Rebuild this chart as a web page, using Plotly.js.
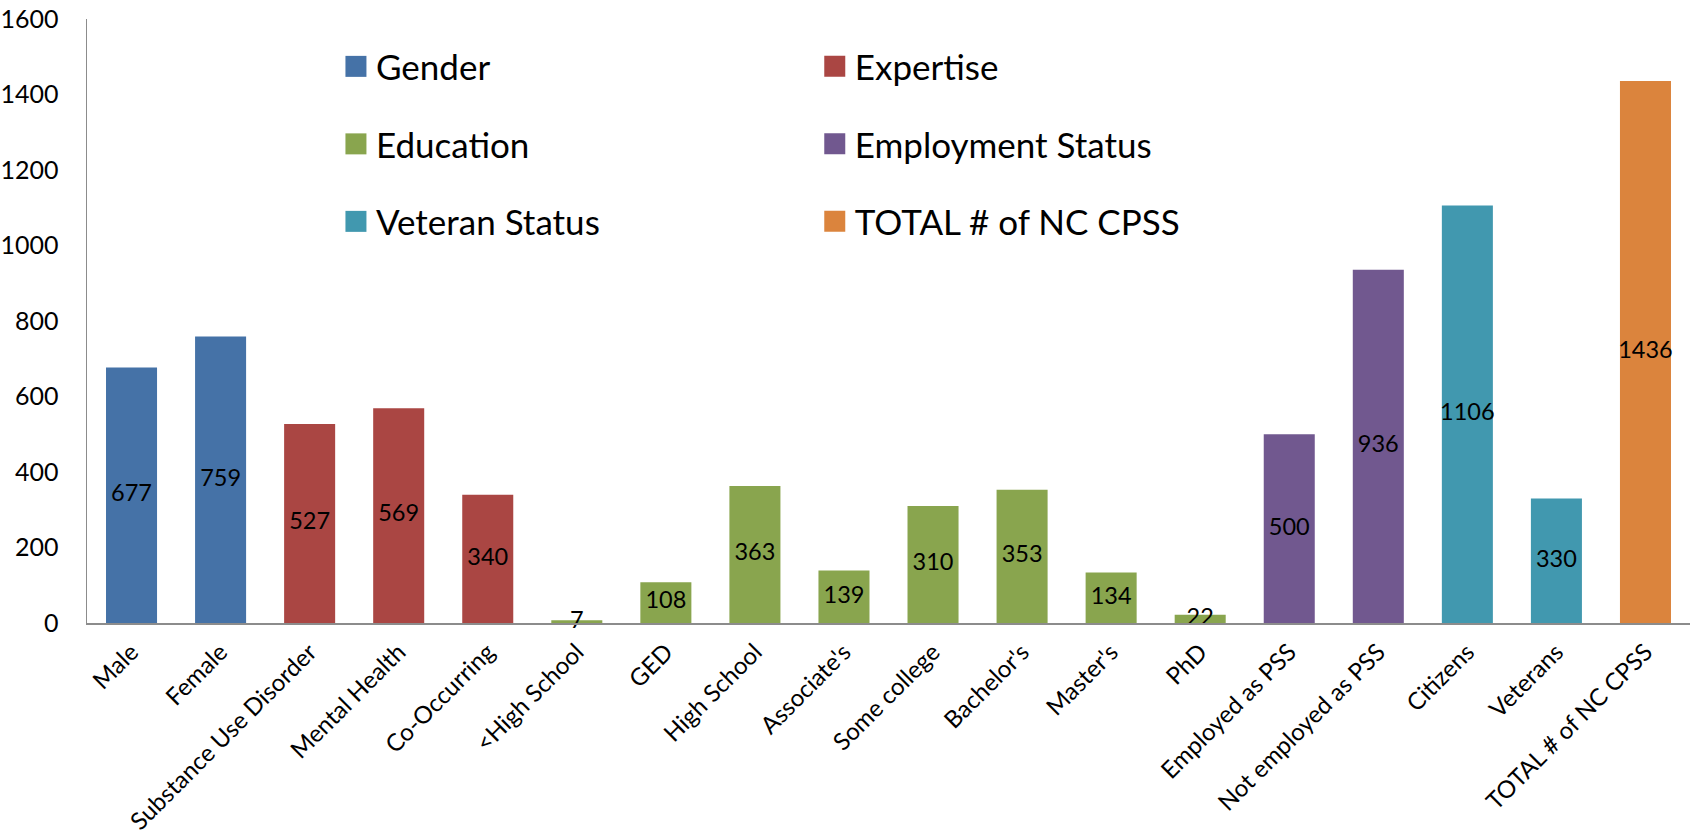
<!DOCTYPE html>
<html>
<head>
<meta charset="utf-8">
<script src="https://cdn.plot.ly/plotly-3.0.1.min.js"></script>
<style>html,body{margin:0;padding:0;background:#fff;}#chart{width:1694px;height:839px;}</style>
</head>
<body>
<div id="chart"></div>
<script>
const genderCats = ["Male", "Female"];
const genderVals = [677, 759];
const expertiseCats = ["Substance Use Disorder", "Mental Health", "Co-Occurring"];
const expertiseVals = [527, 569, 340];
const educationCats = ["<High School", "GED", "High School", "Associate's", "Some college", "Bachelor's", "Master's", "PhD"];
const educationVals = [7, 108, 363, 139, 310, 353, 134, 22];
const employmentCats = ["Employed as PSS", "Not employed as PSS"];
const employmentVals = [500, 936];
const veteranCats = ["Citizens", "Veterans"];
const veteranVals = [1106, 330];
const totalCats = ["TOTAL # of NC CPSS"];
const totalVals = [1436];
const yTicks = [0, 200, 400, 600, 800, 1000, 1200, 1400, 1600];

const groups = [
  {name: "Gender", x: genderCats, y: genderVals, color: "#4572A7", legend: "legend"},
  {name: "Expertise", x: expertiseCats, y: expertiseVals, color: "#AA4643", legend: "legend2"},
  {name: "Education", x: educationCats, y: educationVals, color: "#89A54E", legend: "legend"},
  {name: "Employment Status", x: employmentCats, y: employmentVals, color: "#71588F", legend: "legend2"},
  {name: "Veteran Status", x: veteranCats, y: veteranVals, color: "#4198AF", legend: "legend"},
  {name: "TOTAL # of NC CPSS", x: totalCats, y: totalVals, color: "#DB843D", legend: "legend2"}
];

const allCats = [].concat(genderCats, expertiseCats, educationCats, employmentCats, veteranCats, totalCats);
const allVals = [].concat(genderVals, expertiseVals, educationVals, employmentVals, veteranVals, totalVals);

const FONT = "Lato, 'Open Sans', sans-serif";

const traces = groups.map(g => ({
  type: "bar",
  name: g.name,
  x: g.x,
  y: g.y,
  width: 0.573,
  marker: {color: g.color, line: {width: 0}},
  legend: g.legend,
  legendgroup: g.name,
  hoverinfo: "x+y"
}));

traces.push({
  type: "scatter",
  mode: "text",
  x: allCats,
  y: allVals.map(v => v / 2),
  text: allVals.map(String),
  textposition: "middle center",
  textfont: {family: FONT, size: 23.5, color: "#000"},
  showlegend: false,
  hoverinfo: "skip",
  cliponaxis: false
});

const legendCommon = {
  xanchor: "left",
  yanchor: "top",
  orientation: "v",
  font: {family: FONT, size: 35, color: "#000"},
  bgcolor: "rgba(0,0,0,0)",
  borderwidth: 0,
  tracegroupgap: 29,
  traceorder: "grouped"
};

const layout = {
  width: 1694,
  height: 839,
  margin: {l: 87, r: 4, t: 19, b: 216, pad: 0},
  paper_bgcolor: "#fff",
  plot_bgcolor: "#fff",
  barmode: "overlay",
  font: {family: FONT, size: 25, color: "#000"},
  showlegend: true,
  legend: Object.assign({x: 0.1553, y: 0.970}, legendCommon),
  legend2: Object.assign({x: 0.454, y: 0.970}, legendCommon),
  xaxis: {
    type: "category",
    categoryorder: "array",
    categoryarray: allCats,
    range: [-0.5, allCats.length - 0.5],
    showline: true,
    linecolor: "#8c8c8c",
    linewidth: 1.5,
    ticks: "",
    tickangle: -45,
    ticklabelstandoff: 4,
    tickfont: {family: FONT, size: 24, color: "#000"},
    showgrid: false,
    zeroline: false,
    fixedrange: true
  },
  yaxis: {
    range: [0, 1600],
    tickvals: yTicks,
    ticktext: yTicks.map(String),
    showline: true,
    linecolor: "#8c8c8c",
    linewidth: 1.5,
    ticks: "",
    ticklabelstandoff: 22,
    tickfont: {family: FONT, size: 25, color: "#000"},
    showgrid: false,
    zeroline: false,
    fixedrange: true
  }
};

Plotly.newPlot("chart", traces, layout, {displayModeBar: false, staticPlot: true}).then(gd => {
  gd.querySelectorAll(".legendpoints path").forEach(p => {
    p.setAttribute("d", "M10.5,10.5H-10.5V-10.5H10.5Z");
  });
});
</script>
</body>
</html>
